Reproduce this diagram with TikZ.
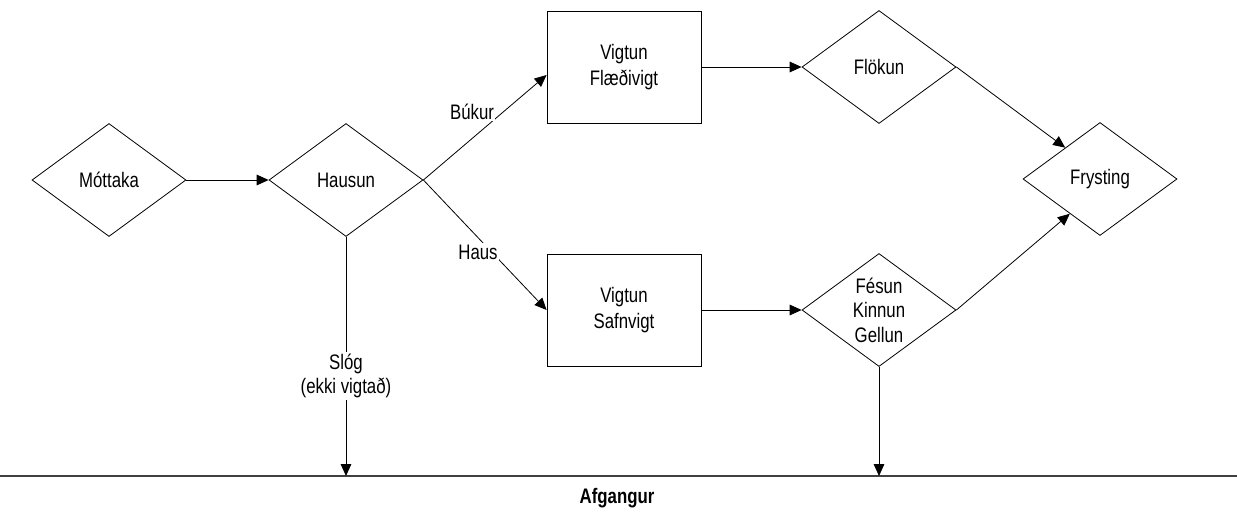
\documentclass[tikz,border=0pt]{standalone}
\usepackage{fontspec}
\setmainfont[FakeStretch=0.8]{Liberation Sans}
\usetikzlibrary{shapes.geometric,arrows.meta}
\begin{document}
\begin{tikzpicture}[x=0.75pt,y=-0.75pt,
  font=\fontsize{15.75pt}{18.5pt}\selectfont,
  dia/.style={diamond, draw, line width=0.6pt, minimum width=115.5pt, minimum height=84.75pt, inner sep=0pt, align=center},
  box/.style={rectangle, draw, line width=0.6pt, minimum width=115.5pt, minimum height=84pt, align=center, font=\fontsize{15.75pt}{20pt}\selectfont},
  arr/.style={-{Triangle[length=9pt,width=8pt]}, line width=0.6pt},
  lbl/.style={fill=white, inner sep=1pt, align=center},
  baseln/.style={draw=black!75, line width=1pt}]
\useasboundingbox (0,0) rectangle (1237,514);
% nodes
\node[dia] (mo) at (109,180) {Móttaka};
\node[dia] (hs) at (346,180) {Hausun};
\node[box] (fv) at (624,67) {Vigtun\\Flæðivigt};
\node[box] (sv) at (624,310) {Vigtun\\Safnvigt};
\node[dia] (fl) at (879,67) {Flökun};
\node[dia, label={[align=center, font=\fontsize{15.75pt}{18.4pt}\selectfont]center:{Fésun\\Kinnun\\Gellun}}] (fs) at (879,310) {};
\node[dia] (fr) at (1100,179) {Frysting};
\coordinate (b1) at (346,476);
\coordinate (b2) at (879,476);
\coordinate (bl) at (0,476);
\coordinate (br) at (1237,476);
% connectors
\draw[baseln] (bl) -- (br);
\draw[arr] (mo.east) -- (hs.west);
\draw[arr] (hs.east) -- ([yshift=-6pt]fv.west);
\draw[arr] (hs.east) -- (sv.west);
\draw[arr] (fv.east) -- (fl.west);
\draw[arr] (sv.east) -- (fs.west);
\draw[arr] (fl.east) -- (fr.138);
\draw[arr] (fs.east) -- (fr.229);
\draw[arr] (hs.south) -- (b1);
\draw[arr] (fs.south) -- (b2);
% labels
\node[lbl] (lb) at (472,112) {Búkur};
\node[lbl] (lh) at (478,252) {Haus};
\node[lbl] (ls) at (346,376) {Slóg\\(ekki vigtað)};
\node[font=\fontsize{15.75pt}{18.5pt}\selectfont\bfseries] (af) at (617,498) {Afgangur};
\end{tikzpicture}
\end{document}
